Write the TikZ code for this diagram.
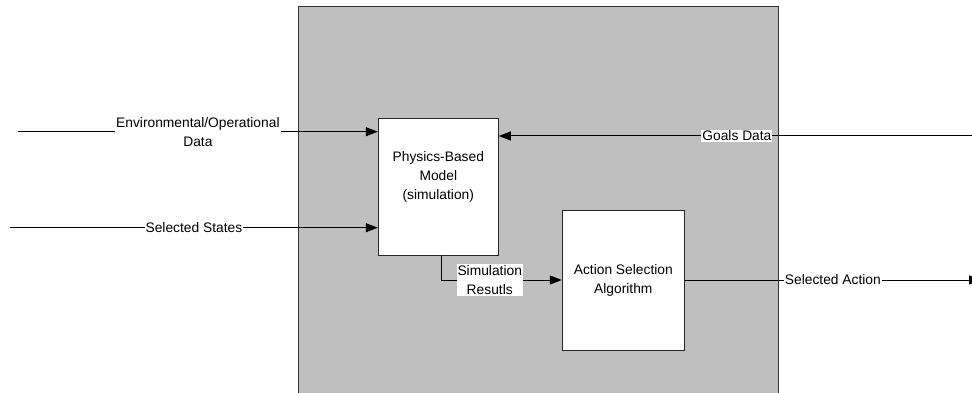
\documentclass[tikz,border=0pt]{standalone}
\usepackage{fontspec}
\setmainfont{Liberation Sans}
\usepackage{tikz}
\usetikzlibrary{arrows.meta}
\usetikzlibrary{positioning}

\tikzset{
  block/.style={draw=black!85, fill=white, line width=1pt, align=center, inner sep=0pt},
  lbl/.style={fill=white, align=center, inner sep=1pt},
  flow/.style={->, line width=1pt}
}

\begin{document}
\begin{tikzpicture}[x=1pt, y=-1pt, line join=miter, >={Triangle[length=12pt, width=9pt]},
  font=\fontsize{13.8}{19}\selectfont]
  \useasboundingbox (0,0) rectangle (972,393);
  %--- Controller area
    \draw[fill=black!25, draw=black!80, line width=1pt] (298.3, 400) -- (298.3, 7) -- (778.3, 7) -- (778.3, 400);
  %--- Blocks
    \node[block, minimum width=120pt, minimum height=137pt] (pbm) at (438.3, 186.7) {};
    \node[align=center] (pbmtext) at (438.3, 177.3) {Physics-Based\\Model\\(simulation)};
    \node[block, minimum width=122pt, minimum height=140pt] (asa) at (623.3, 280) {Action Selection\\Algorithm};
  %--- Free ends
    \coordinate (envin) at (18, 131.7);
    \coordinate (statesin) at (10, 227.7);
    \coordinate (goalsin) at (975, 136);
    \coordinate (actionout) at (981, 280);
  % Flows
    \draw[flow] (envin) -- node[lbl] (envlbl) {Environmental/Operational\\Data} (envin -| pbm.west);
    \draw[flow] (statesin) -- node[lbl] (stateslbl) {Selected States} (statesin -| pbm.west);
    \draw[flow] (goalsin) -- node[lbl] (goalslbl) {Goals Data} (goalsin -| pbm.east);
    \draw[flow] ([xshift=3.4pt]pbm.south) |- node[lbl, pos=0.7] (simlbl) {Simulation\\Resutls} (asa.west);
    \draw[flow] (asa.east) -- node[lbl, pos=0.5] (actionlbl) {Selected Action} (actionout);
\end{tikzpicture}
\end{document}
